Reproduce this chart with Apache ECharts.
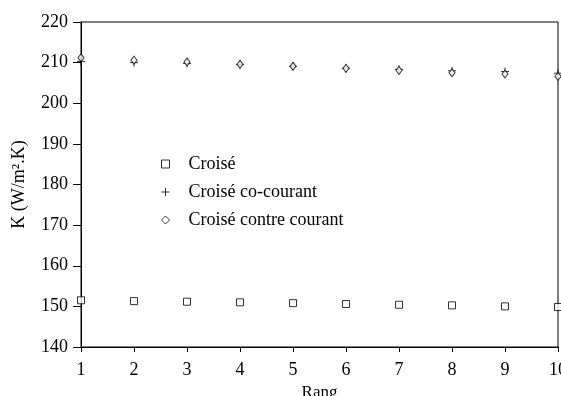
<!DOCTYPE html>
<html><head><meta charset="utf-8">
<script src="https://cdn.jsdelivr.net/npm/echarts@6/dist/echarts.min.js"></script>
<style>html,body{margin:0;padding:0;background:#fff}#c{width:561px;height:396px}</style>
</head><body><div id="c"></div>
<script>
var rang = [1,2,3,4,5,6,7,8,9,10];
var croise = [151.5,151.3,151.15,151.0,150.8,150.6,150.4,150.25,150.0,149.85];
var coCourant = [210.3,210.0,209.8,209.5,209.1,208.6,208.35,208.0,207.8,207.4];
var contreCourant = [211.2,210.6,210.15,209.6,209.1,208.6,208.1,207.5,207.2,206.6];
var seriesNames = ['Croisé','Croisé co-courant','Croisé contre courant'];

function pts(ys){ return rang.map(function(x,i){ return [x, ys[i]]; }); }
var font = 'Liberation Serif';
var chart = echarts.init(document.getElementById('c'), null, {renderer:'canvas'});
var base = {type:'scatter', itemStyle:{color:'#fff', borderColor:'#000', borderWidth:1}, emphasis:{disabled:true}};
chart.setOption({
  animation:false,
  backgroundColor:'#fff',
  grid:{left:81, top:22, right:3, bottom:49, show:true, borderColor:'#000', borderWidth:1, containLabel:false, outerBoundsMode:'none'},
  xAxis:{type:'value', min:1, max:10, interval:1, splitLine:{show:false},
    axisLine:{lineStyle:{color:'#000'}}, axisTick:{length:5, lineStyle:{color:'#000'}},
    axisLabel:{color:'#000', fontFamily:font, fontSize:18, margin:14},
    name:'Rang', nameLocation:'middle', nameGap:37, nameTextStyle:{color:'#000', fontFamily:font, fontSize:17}},
  yAxis:{type:'value', min:140, max:220, interval:10, splitLine:{show:false},
    axisLine:{show:true, lineStyle:{color:'#000'}}, axisTick:{show:true, length:8, lineStyle:{color:'#000'}},
    axisLabel:{color:'#000', fontFamily:font, fontSize:18, margin:13},
    name:'K (W/m².K)', nameLocation:'middle', nameGap:53, nameTextStyle:{color:'#000', fontFamily:font, fontSize:18}},
  legend:{orient:'vertical', left:154, top:150, itemGap:10, itemWidth:8, itemHeight:8,
    itemStyle:{borderWidth:1},
    data:seriesNames, textStyle:{color:'#000', fontFamily:font, fontSize:18, padding:[0,0,0,14]}},
  series:[
    Object.assign({}, base, {name:seriesNames[0], data:pts(croise), symbol:'rect', symbolSize:7}),
    Object.assign({}, base, {name:seriesNames[1], data:pts(coCourant), symbol:'path://M5,0L5,10M0,5L10,5', symbolSize:8,
      itemStyle:{color:'none', borderColor:'#000', borderWidth:1}}),
    Object.assign({}, base, {name:seriesNames[2], data:pts(contreCourant), symbol:'diamond', symbolSize:[6,8]})
  ]
});
</script></body></html>
